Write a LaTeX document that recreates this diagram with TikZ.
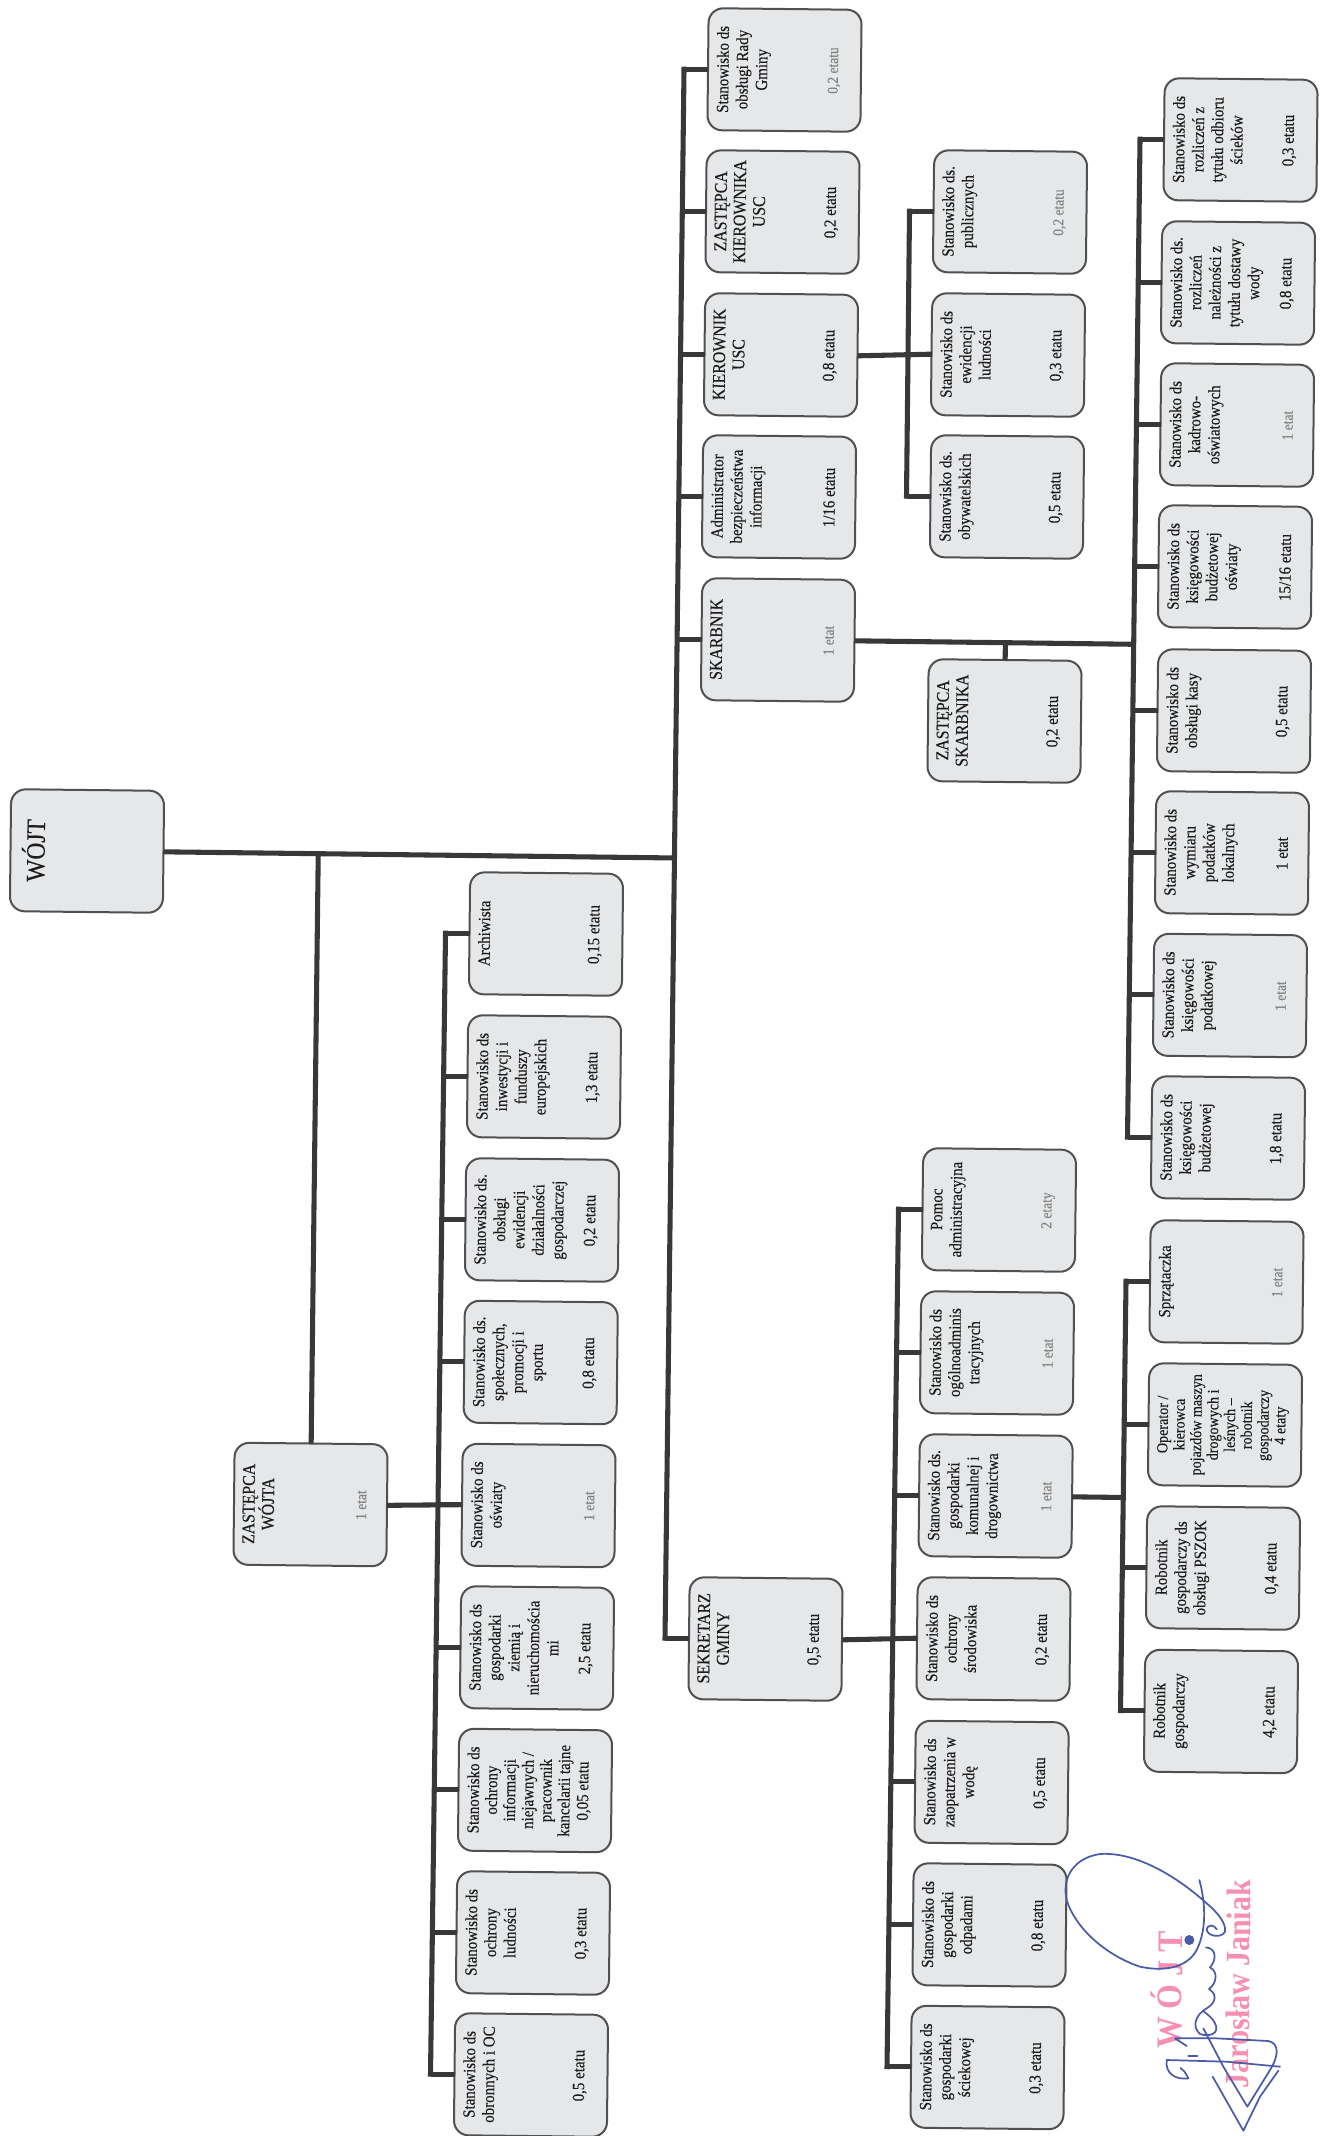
\documentclass[tikz,border=0pt]{standalone}
\usepackage{fontspec}
\setmainfont[FakeStretch=0.88,FakeBold=0.25]{Liberation Serif}
\newfontfamily\stampfont[FakeStretch=0.88]{Liberation Serif Bold}
\usetikzlibrary{calc}
\definecolor{boxfill}{HTML}{E5E7E9}
\definecolor{boxline}{HTML}{505050}
\definecolor{busline}{HTML}{383838}
\definecolor{faintink}{HTML}{858585}
\definecolor{inkc}{HTML}{1C1C1C}
\definecolor{stamp}{HTML}{F590B0}
\definecolor{sign}{HTML}{4A5CA8}
\newcommand\jt[2]{\parbox[c][114.75pt][t]{91.5pt}{\centering\vspace*{6.5pt}#1\par\vfill #2\par\vspace*{15.5pt}}}
\newcommand\faint[1]{{\fontsize{11.5}{14.25}\selectfont\textcolor{faintink}{#1}}}
\newcommand\hdr[1]{{\fontsize{13.5}{14.25}\selectfont #1}}
\tikzset{
  box/.style={draw=boxline,fill=boxfill,line width=1.5pt,rounded corners=11pt,inner sep=0pt,outer sep=0pt,
    rotate=89.38,text=inkc,font=\fontsize{12.75}{14.5}\selectfont},
  bus/.style={draw=busline,line width=3.8pt},
  trunk/.style={bus,line cap=rect},
  sig/.style={draw=sign,line width=1.3pt,line cap=round,line join=round},
}
\begin{document}
\begin{tikzpicture}[x=0.75pt,y=-0.75pt]
\useasboundingbox (0,0) rectangle (1327,2136);
% top level
\node[box] (wojt) at (87,851) {\jt{\vspace*{2pt}\fontsize{20}{22}\selectfont WÓJT}{}};
% main column
\node[box] (rady) at (784.5,70) {\jt{Stanowisko ds\\obsługi Rady\\Gminy}{\faint{0,2 etatu}}};
\node[box] (zk) at (782.5,212) {\jt{\hdr{ZASTĘPCA\\KIEROWNIKA\\USC}}{0,2 etatu}};
\node[box] (kier) at (781,355) {\jt{\hdr{KIEROWNIK\\USC}}{0,8 etatu}};
\node[box] (admin) at (779,497) {\jt{Administrator\\bezpieczeństwa\\informacji}{1/16 etatu}};
\node[box] (skarb) at (778,640) {\jt{\hdr{SKARBNIK}}{\faint{1 etat}}};
\node[box] (sekr) at (765.5,1639) {\jt{\hdr{SEKRETARZ\\GMINY}}{0,5 etatu}};
% USC
\node[box] (publ) at (1010,212) {\jt{Stanowisko ds.\\publicznych}{\faint{0,2 etatu}}};
\node[box] (ewid) at (1008,355) {\jt{Stanowisko ds\\ewidencji\\ludności}{0,3 etatu}};
\node[box] (obyw) at (1007,497) {\jt{Stanowisko ds.\\obywatelskich}{0,5 etatu}};
% skarbnik
\node[box] (zs) at (1004.5,721) {\jt{\hdr{ZASTĘPCA\\SKARBNIKA}}{0,2 etatu}};
\node[box] (rozs) at (1240.5,140) {\jt{Stanowisko ds\\rozliczeń z\\tytułu odbioru\\ścieków}{0,3 etatu}};
\node[box] (rozw) at (1238,283) {\jt{Stanowisko ds.\\rozliczeń\\należności z\\tytułu dostawy\\wody}{0,8 etatu}};
\node[box] (kadr) at (1237,425) {\jt{Stanowisko ds\\kadrowo-\\oświatowych}{\faint{1 etat}}};
\node[box] (ksos) at (1235,567) {\jt{Stanowisko ds\\księgowości\\budżetowej\\oświaty}{15/16 etatu}};
\node[box] (kasa) at (1234,711) {\jt{Stanowisko ds\\obsługi kasy}{0,5 etatu}};
\node[box] (wymi) at (1232,853) {\jt{Stanowisko ds\\wymiaru\\podatków\\lokalnych}{1 etat}};
\node[box] (kspo) at (1230,995.5) {\jt{Stanowisko ds\\księgowości\\podatkowej}{\faint{1 etat}}};
\node[box] (ksbu) at (1228,1138) {\jt{Stanowisko ds\\księgowości\\budżetowej}{1,8 etatu}};
% sekretarz
\node[box] (pomo) at (999,1210) {\jt{Pomoc\\administracyjna}{\faint{2 etaty}}};
\node[box] (ogol) at (997,1353) {\jt{Stanowisko ds\\ogólnoadminis\\tracyjnych}{\faint{1 etat}}};
\node[box] (gk) at (995.6,1496) {\jt{Stanowisko ds.\\gospodarki\\komunalnej i\\drogownictwa}{\faint{1 etat}}};
\node[box] (ochs) at (993.5,1639) {\jt{Stanowisko ds\\ochrony\\środowiska}{0,2 etatu}};
\node[box] (zaop) at (991.6,1782.5) {\jt{Stanowisko ds\\zaopatrzenia w\\wodę}{0,5 etatu}};
\node[box] (odpa) at (989.5,1925) {\jt{Stanowisko ds\\gospodarki\\odpadami}{0,8 etatu}};
\node[box] (scie) at (987.5,2067.5) {\jt{Stanowisko ds\\gospodarki\\ściekowej}{0,3 etatu}};
% gospodarka komunalna
\node[box] (sprz) at (1226.5,1282) {\jt{Sprzątaczka}{\faint{1 etat}}};
\node[box] (oper) at (1225,1425) {\jt{\fontsize{12}{12.6}\selectfont Operator /\\kierowca\\pojazdów maszyn\\drogowych i\\leśnych --\\robotnik\\gospodarczy\\4 etaty}{}};
\node[box] (pszo) at (1223,1568) {\jt{Robotnik\\gospodarczy ds\\obsługi PSZOK}{0,4 etatu}};
\node[box] (robo) at (1221,1711.5) {\jt{Robotnik\\gospodarczy}{4,2 etatu}};
% zastepca wojta
\node[box] (zw) at (310.5,1504.5) {\jt{\hdr{ZASTĘPCA\\WÓJTA}}{\faint{1 etat}}};
\node[box] (arch) at (546,934) {\jt{Archiwista}{0,15 etatu}};
\node[box] (inwe) at (544,1077) {\jt{Stanowisko ds\\inwestycji i\\funduszy\\europejskich}{1,3 etatu}};
\node[box] (dzia) at (542,1220) {\jt{Stanowisko ds.\\obsługi\\ewidencji\\działalności\\gospodarczej}{0,2 etatu}};
\node[box] (spol) at (540.7,1362.5) {\jt{Stanowisko ds.\\społecznych,\\promocji i\\sportu}{0,8 etatu}};
\node[box] (oswi) at (538.5,1505.5) {\jt{Stanowisko ds\\oświaty}{\faint{1 etat}}};
\node[box] (ziem) at (537,1648) {\jt{Stanowisko ds\\gospodarki\\ziemią i\\nieruchomościa\\mi}{2,5 etatu}};
\node[box] (ochi) at (535,1790.5) {\jt{\fontsize{12.75}{13.6}\selectfont Stanowisko ds\\ochrony\\informacji\\niejawnych /\\pracownik\\kancelarii tajne}{0,05 etatu}};
\node[box] (ochl) at (533,1933) {\jt{Stanowisko ds\\ochrony\\ludności}{0,3 etatu}};
\node[box] (obro) at (531,2075) {\jt{Stanowisko ds\\obronnych i OC}{0,5 etatu}};
% stubs
\foreach \n in {rady,zk,kier,admin,skarb,sekr,publ,ewid,obyw,rozs,rozw,kadr,ksos,kasa,wymi,kspo,ksbu,pomo,ogol,gk,ochs,zaop,odpa,scie,sprz,oper,pszo,robo,arch,inwe,dzia,spol,oswi,ziem,ochi,ochl,obro}{
  \coordinate (t\n) at ($(\n.north)+(-24,0)$);
  \draw[bus] (\n.north) -- (t\n);
}
% trunks
\draw[trunk] (trady) -- (tsekr);
\draw[trunk] (tpubl) -- (tobyw);
\draw[trunk] (trozs) -- (tksbu);
\draw[trunk] (tpomo) -- (tscie);
\draw[trunk] (tsprz) -- (trobo);
\draw[trunk] (tarch) -- (tobro);
% horizontals
\coordinate (jmain) at ($(trady)!(wojt.south)!(tsekr)$);
\draw[bus] (wojt.south) -- (jmain);
\coordinate (jzw) at ($(wojt.south)!(zw.east)!(jmain)$);
\draw[bus] (zw.east) -- (jzw);
\draw[bus] (zw.south) -- (oswi.north);
\draw[bus] (kier.south) -- (ewid.north);
\coordinate (jskarb) at ($(trozs)!(skarb.south)!(tksbu)$);
\draw[bus] (skarb.south) -- (jskarb);
\coordinate (jzs) at ($(skarb.south)!(zs.east)!(jskarb)$);
\draw[bus] (zs.east) -- (jzs);
\draw[bus] (sekr.south) -- (ochs.north);
\coordinate (jgk) at ($(tsprz)!(gk.south)!(trobo)$);
\draw[bus] (gk.south) -- (jgk);
% stamp
\node[rotate=89.38,text=stamp,font=\fontsize{27}{30}\selectfont\stampfont,inner sep=0pt] (stampw) at (1167,1990) {W Ó J T};
\node[rotate=89.38,text=stamp,font=\fontsize{25.5}{28}\selectfont\stampfont,inner sep=0pt] (stampn) at (1238,1984) {Jarosław Janiak};
% signature
\begin{scope}[shift={(1060,1840)},x=0.25pt,y=-0.25pt]
\draw[sig] (418,120) .. controls (432,170) and (445,260) .. (410,330)
  .. controls (380,385) and (310,395) .. (240,380)
  .. controls (150,350) and (60,280) .. (25,195)
  .. controls (0,130) and (30,55) .. (120,42)
  .. controls (220,35) and (340,100) .. (440,190)
  .. controls (470,215) and (500,250) .. (495,275)
  .. controls (485,295) and (445,290) .. (440,270)
  .. controls (442,250) and (465,255) .. (470,268);
\draw[sig] (438,322) .. controls (470,325) and (470,360) .. (450,382)
  .. controls (475,395) and (470,430) .. (447,447)
  .. controls (475,465) and (465,490) .. (440,505)
  .. controls (405,525) and (395,560) .. (420,582)
  .. controls (450,592) and (480,580) .. (465,550)
  .. controls (458,535) and (445,525) .. (432,515);
\draw[sig] (380,618) -- (345,595) -- (470,595) -- (625,603)
  .. controls (660,610) and (655,650) .. (630,690)
  -- (562,800) -- (490,680) -- (430,565);
\draw[sig] (385,715) .. controls (375,695) and (370,690) .. (362,684);
\draw[sig] (385,715) .. controls (345,720) and (315,700) .. (320,660) -- (500,665) -- (660,680);
\draw[sig] (458,710) -- (550,872) -- (600,770) -- (655,692);
\draw[sig] (385,648) -- (412,648);
\fill[sign] (388,300) circle (15);
\end{scope}
\end{tikzpicture}
\end{document}
